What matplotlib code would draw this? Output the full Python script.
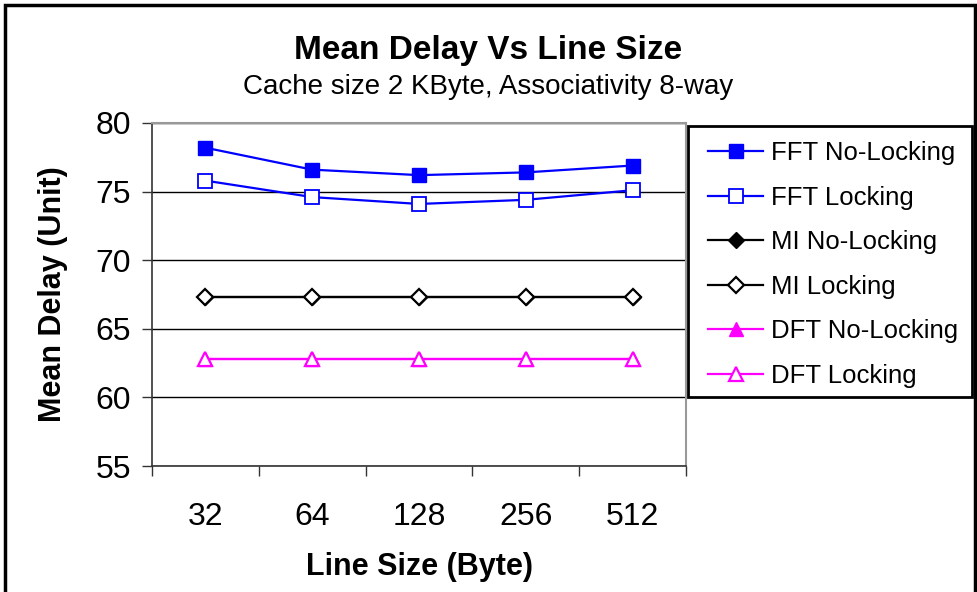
import matplotlib
matplotlib.use('Agg')
import matplotlib.pyplot as plt
from matplotlib.patches import Rectangle

plt.rcParams['font.family'] = ['Liberation Sans', 'DejaVu Sans']

# Data
line_sizes = ['32', '64', '128', '256', '512']
fft_no_lock = [78.2, 76.6, 76.2, 76.4, 76.9]
fft_lock = [75.8, 74.6, 74.1, 74.4, 75.1]
mi_no_lock = [67.3, 67.3, 67.3, 67.3, 67.3]
mi_lock = [67.3, 67.3, 67.3, 67.3, 67.3]
dft_no_lock = [62.8, 62.8, 62.8, 62.8, 62.8]
dft_lock = [62.8, 62.8, 62.8, 62.8, 62.8]

W, H = 977, 592
fig = plt.figure(figsize=(W/100, H/100), dpi=100)
ax = fig.add_axes([152/W, 1 - 466/H, (686-152)/W, (466-123)/H])

x = list(range(len(line_sizes)))
blue = '#0000FF'
mag = '#FF00FF'

ax.plot(x, fft_no_lock, color=blue, lw=1.6, marker='s', ms=9.5, mfc=blue, mec=blue, label='FFT No-Locking')
ax.plot(x, fft_lock, color=blue, lw=1.6, marker='s', ms=9.5, mfc='white', mec=blue, mew=1.3, label='FFT Locking')
ax.plot(x, mi_no_lock, color='black', lw=1.6, marker='D', ms=8.5, mfc='black', mec='black', label='MI No-Locking')
ax.plot(x, mi_lock, color='black', lw=1.6, marker='D', ms=8.5, mfc='white', mec='black', mew=1.6, label='MI Locking')
ax.plot(x, dft_no_lock, color=mag, lw=1.6, marker='^', ms=10.5, mfc=mag, mec=mag, label='DFT No-Locking')
ax.plot(x, dft_lock, color=mag, lw=1.6, marker='^', ms=10.5, mfc='white', mec=mag, mew=1.6, label='DFT Locking')

ax.set_xlim(-0.5, 4.5)
ax.set_ylim(55, 80)
ax.set_yticks([55, 60, 65, 70, 75, 80])
ax.set_xticks(x)
ax.set_xticklabels(line_sizes)
ax.set_xticks([-0.5, 0.5, 1.5, 2.5, 3.5, 4.5], minor=True)
ax.tick_params(axis='x', which='major', length=0, pad=26, labelsize=23)
ax.tick_params(axis='x', which='minor', length=7, width=1, color='#333333')
ax.tick_params(axis='y', length=7, width=1, color='#333333', labelsize=23, pad=8)
ax.yaxis.grid(True, color='black', lw=1)
ax.set_axisbelow(True)

for s in ['top', 'right']:
    ax.spines[s].set_color('#999999')
    ax.spines[s].set_linewidth(1.5)
for s in ['left', 'bottom']:
    ax.spines[s].set_color('#333333')
    ax.spines[s].set_linewidth(1.2)

ax.set_xlabel('Line Size (Byte)', fontsize=22, fontweight='bold', labelpad=14)
ax.set_ylabel('Mean Delay (Unit)', fontsize=22, fontweight='bold', labelpad=20)

fig.text(488/W, 1 - 51/H, 'Mean Delay Vs Line Size', ha='center', va='center',
         fontsize=24, fontweight='bold')
fig.text(488/W, 1 - 87/H, 'Cache size 2 KByte, Associativity 8-way', ha='center', va='center',
         fontsize=20)

# legend box drawn separately so its edges sit where the original's do
fig.patches.append(Rectangle((688/W, 1 - 397/H), (972-688)/W, (397-126)/H,
                             transform=fig.transFigure, fill=True, fc='white', ec='black', lw=2, zorder=3))
leg = fig.legend(loc='upper left', bbox_to_anchor=(708/W, 1 - 141/H), fontsize=18.5,
                 frameon=False, borderpad=0, borderaxespad=0,
                 labelspacing=0.8, handlelength=2.15, handletextpad=0.3)
leg.set_zorder(4)

# outer chart frame
fig.patches.append(Rectangle((5/W, -0.01), 970/W, 1 - 5/H + 0.01, transform=fig.transFigure,
                             fill=False, ec='black', lw=2.5))

fig.savefig('out.png', dpi=100)
